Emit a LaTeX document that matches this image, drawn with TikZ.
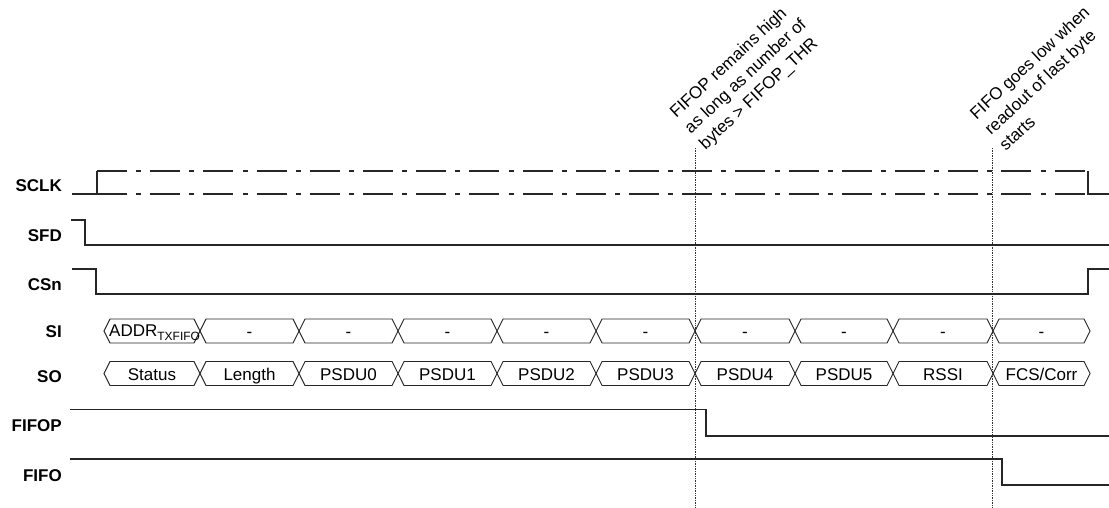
\documentclass[tikz,border=0pt]{standalone}
\usepackage{fontspec}
\setmainfont{Liberation Sans}
\begin{document}
\begin{tikzpicture}[x=1pt,y=-1pt,
  sig/.style={line width=1.2pt, black!85, line join=miter},
  clkdash/.style={sig, dash pattern=on 30pt off 9.2pt on 5pt off 9pt},
  bus/.style={line width=0.9pt, black!85},
  lbl/.style={font=\fontsize{17}{20}\selectfont\bfseries, anchor=base east, inner sep=0pt},
  bustxt/.style={font=\fontsize{17}{20}\selectfont, anchor=base, inner sep=0pt},
  note/.style={font=\fontsize{17}{21.5}\selectfont, align=left, rotate=43, anchor=south west, inner sep=0pt},
  marker/.style={densely dotted, line width=0.7pt, black!80}]
\useasboundingbox (0,0) rectangle (1109,508);

% labels
\node[lbl] (lsclk) at (62,192) {SCLK};
\node[lbl] (lsfd) at (62,241) {SFD};
\node[lbl] (lcsn) at (62,290) {CSn};
\node[lbl] (lsi) at (62,337) {SI};
\node[lbl] (lso) at (62,382) {SO};
\node[lbl] (lfifop) at (62,431) {FIFOP};
\node[lbl] (lfifo) at (62,481) {FIFO};

% marker lines
\coordinate (m1t) at (695,148); \coordinate (m1b) at (695,508);
\coordinate (m2t) at (992,148); \coordinate (m2b) at (992,508);
\draw[marker] (m1t) -- (m1b);
\draw[marker] (m2t) -- (m2b);

% SCLK
\draw[sig] (72,194) -- (97,194) -- (97,171);
\draw[clkdash] (97,171) -- (1088,171);
\draw[clkdash] (97,194) -- (1088,194);
\draw[sig] (1088,171) -- (1088,194) -- (1109,194);

% SFD
\draw[sig] (71,220) -- (85,220) -- (85,245) -- (1109,245);

% CSn
\draw[sig] (72,269) -- (96,269) -- (96,294) -- (1088,294) -- (1088,269) -- (1109,269);

% SI bus
\foreach \a/\b [count=\i] in {104/200,200/299,299/398,398/497,497/596,596/695,695/795,795/893,893/993,993/1090} {
  \draw[bus] (\a,331) -- (\a+6,319) -- (\b-6,319) -- (\b,331) -- (\b-6,343) -- (\a+6,343) -- cycle;
}
\node[font=\fontsize{17}{20}\selectfont, anchor=base west, inner sep=0pt] (si1) at (109,336)
  {ADDR\raisebox{-4.5pt}{\fontsize{12}{12}\selectfont TXFIFO}};
\foreach \a/\b [count=\i from 2] in {200/299,299/398,398/497,497/596,596/695,695/795,795/893,893/993,993/1090} {
  \node[bustxt] (si\i) at ({(\a+\b)/2},337) {-};
}

% SO bus
\foreach \a/\b/\t [count=\i] in {104/200/Status,200/299/Length,299/398/PSDU0,398/497/PSDU1,497/596/PSDU2,596/695/PSDU3,695/795/PSDU4,795/893/PSDU5,893/993/RSSI,993/1090/FCS\slash Corr} {
  \draw[bus] (\a,373.5) -- (\a+6,361.5) -- (\b-6,361.5) -- (\b,373.5) -- (\b-6,385.5) -- (\a+6,385.5) -- cycle;
  \node[bustxt] (so\i) at ({(\a+\b)/2},380) {\t};
}

% FIFOP
\draw[sig] (70,409.5) -- (706,409.5) -- (706,436) -- (1109,436);
% FIFO
\draw[sig] (70,459) -- (1002,459) -- (1002,485) -- (1109,485);

% notes
\node[note] (n1) at (708,153) {FIFOP remains high\\as long as number of\\bytes > FIFOP\_THR};
\node[note] (n2) at (1006,152) {FIFO goes low when\\readout of last byte\\starts};
\end{tikzpicture}
\end{document}
